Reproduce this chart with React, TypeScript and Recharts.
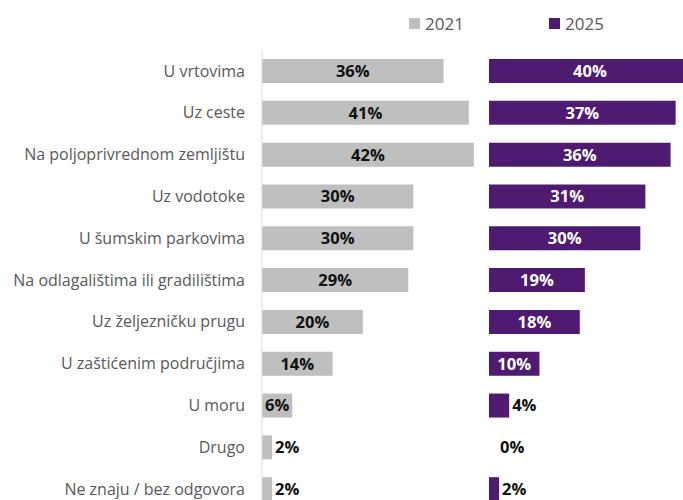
import React from 'react';
import { BarChart, Bar, XAxis, YAxis, LabelList } from 'recharts';

const categories = [
  'U vrtovima',
  'Uz ceste',
  'Na poljoprivrednom zemljištu',
  'Uz vodotoke',
  'U šumskim parkovima',
  'Na odlagalištima ili gradilištima',
  'Uz željezničku prugu',
  'U zaštićenim područjima',
  'U moru',
  'Drugo',
  'Ne znaju / bez odgovora',
];
const values2021 = [36, 41, 42, 30, 30, 29, 20, 14, 6, 2, 2];
const values2025 = [40, 37, 36, 31, 30, 19, 18, 10, 4, 0, 2];
const years = ['2021', '2025'];

const GRAY = '#bfbfbf';
const PURPLE = '#4e1a72';
const FONT = "'Open Sans', 'DejaVu Sans', sans-serif";

const data = categories.map((category, i) => ({
  category,
  y2021: values2021[i],
  y2025: values2025[i],
}));

// label inside the bar when it fits, otherwise just right of it
const makeLabel = (insideColor: string) => (props: any) => {
  const { x, y, width, height, value } = props;
  const text = `${value}%`;
  const fits = width >= 28;
  const tx = fits ? x + width / 2 : x + width + (value === 0 ? 11 : 3);
  return (
    <text
      x={tx}
      y={y + height / 2}
      dy="0.36em"
      textAnchor={fits ? 'middle' : 'start'}
      fill={fits ? insideColor : '#111'}
      fontFamily={FONT}
      fontWeight={700}
      fontSize={16.5}
    >
      {text}
    </text>
  );
};

// zero values still need a (invisible) rect so the label gets drawn
const tinyForZero = (value: any) => (value === 0 ? 0.01 : 0);

const LegendItem = ({ left, color, label }: { left: number; color: string; label: string }) => (
  <div style={{ position: 'absolute', left, top: 12, display: 'flex', alignItems: 'center', height: 22 }}>
    <div style={{ width: 11, height: 11, background: color, marginRight: 5 }} />
    <span style={{ fontFamily: FONT, fontSize: 17, color: '#595959' }}>{label}</span>
  </div>
);

export default function App() {
  return (
    <div style={{ position: 'absolute', left: 0, top: 0, width: 683, height: 500, overflow: 'hidden', background: '#fff' }}>
      <LegendItem left={409} color={GRAY} label={years[0]} />
      <LegendItem left={549} color={PURPLE} label={years[1]} />

      {/* 2021 panel with category labels */}
      <div style={{ position: 'absolute', left: 0, top: 0 }}>
        <BarChart layout="vertical" width={489} height={520} data={data} margin={{ top: 50, right: 0, bottom: 10, left: 0 }}>
          <XAxis type="number" domain={[0, 45]} hide />
          <YAxis
            type="category"
            dataKey="category"
            width={262}
            tickLine={false}
            tickMargin={11}
            axisLine={{ stroke: '#d9d9d9' }}
            tick={{ fill: '#595959', fontSize: 16, fontFamily: FONT }}
            interval={0}
          />
          <Bar dataKey="y2021" fill={GRAY} barSize={24} isAnimationActive={false}>
            <LabelList dataKey="y2021" content={makeLabel('#111')} />
          </Bar>
        </BarChart>
      </div>

      {/* 2025 panel */}
      <div style={{ position: 'absolute', left: 489, top: 0 }}>
        <BarChart layout="vertical" width={227} height={520} data={data} margin={{ top: 50, right: 0, bottom: 10, left: 0 }}>
          <XAxis type="number" domain={[0, 45]} hide />
          <YAxis type="category" dataKey="category" hide />
          <Bar dataKey="y2025" fill={PURPLE} barSize={24} minPointSize={tinyForZero} isAnimationActive={false}>
            <LabelList dataKey="y2025" content={makeLabel('#fff')} />
          </Bar>
        </BarChart>
      </div>
    </div>
  );
}
